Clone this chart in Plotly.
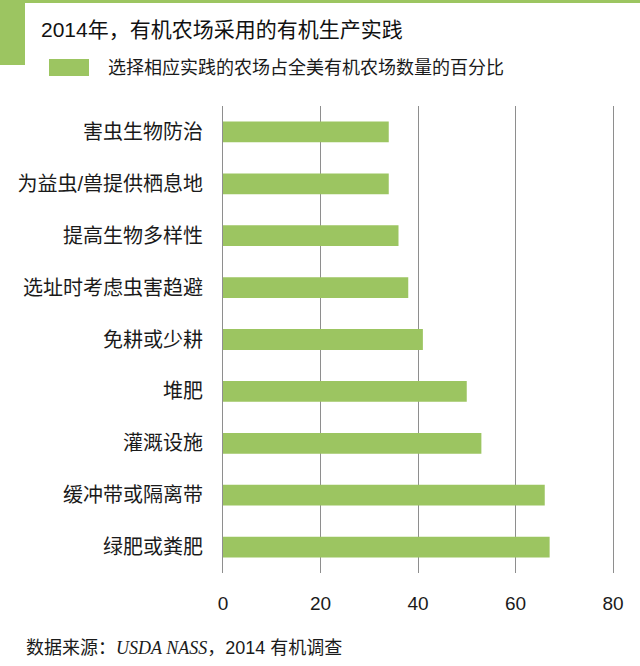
import plotly.graph_objects as go

categories = ["害虫生物防治", "为益虫/兽提供栖息地", "提高生物多样性", "选址时考虑虫害趋避",
              "免耕或少耕", "堆肥", "灌溉设施", "缓冲带或隔离带", "绿肥或粪肥"]
values = [34, 34, 36, 38, 41, 50, 53, 66, 67]
tick_vals = [0, 20, 40, 60, 80]
tick_text = ["0", "20", "40", "60", "80"]
title_text = "2014年，有机农场采用的有机生产实践"
legend_text = "选择相应实践的农场占全美有机农场数量的百分比"
source_text = ("数据来源：<span style='font-family:Liberation Serif'><i>USDA NASS</i></span>"
               "，2014 有机调查")

W, H = 640, 666
ML, MR, MT, MB = 223, 27, 106, 93
PW, PH = W - ML - MR, H - MT - MB

def px(x):
    return (x - ML) / PW

def py(y):
    return (H - MB - y) / PH

GREEN = "#9cc561"
GRID = "#8e8e8e"
CJK = "Liberation Sans, Noto Sans CJK SC, sans-serif"

fig = go.Figure(go.Bar(
    x=values, y=categories, orientation="h",
    marker=dict(color=GREEN, line=dict(width=0)),
    showlegend=False,
))

fig.update_layout(
    width=W, height=H,
    margin=dict(l=ML, r=MR, t=MT, b=MB),
    paper_bgcolor="white", plot_bgcolor="white",
    bargap=0.6,
    font=dict(family=CJK, color="#1a1a1a"),
    xaxis=dict(range=[0, 80], tickvals=tick_vals, ticktext=tick_text,
               showgrid=True, gridcolor=GRID, gridwidth=1,
               zeroline=False, showline=False, ticks="", automargin=False,
               tickfont=dict(size=19, family=CJK, color="#1a1a1a"),
               ticklabelstandoff=17, fixedrange=True),
    yaxis=dict(autorange="reversed", showgrid=False, zeroline=False,
               showline=True, mirror=True, linecolor=GRID, linewidth=1,
               ticks="", automargin=False,
               tickfont=dict(size=20, family=CJK, color="#1a1a1a"),
               ticklabelstandoff=15, fixedrange=True),
    shapes=[
        dict(type="rect", xref="paper", yref="paper", x0=px(0), x1=px(W), y0=py(0), y1=py(3),
             fillcolor=GREEN, line=dict(width=0), layer="above"),
        dict(type="rect", xref="paper", yref="paper", x0=px(0), x1=px(25), y0=py(0), y1=py(65),
             fillcolor=GREEN, line=dict(width=0), layer="above"),
        dict(type="rect", xref="paper", yref="paper", x0=px(49), x1=px(89), y0=py(59), y1=py(76),
             fillcolor=GREEN, line=dict(width=0), layer="above"),
    ],
    annotations=[
        dict(text=title_text, xref="paper", yref="paper", x=px(39), y=py(29),
             xanchor="left", yanchor="middle", showarrow=False,
             font=dict(size=21, family=CJK, color="#111")),
        dict(text=legend_text, xref="paper", yref="paper", x=px(106), y=py(68),
             xanchor="left", yanchor="middle", showarrow=False,
             font=dict(size=18, family=CJK, color="#1a1a1a")),
        dict(text=source_text, xref="paper", yref="paper", x=px(24), y=py(648),
             xanchor="left", yanchor="middle", showarrow=False,
             font=dict(size=18, family=CJK, color="#1a1a1a")),
    ],
)

fig.write_html("out.html", config={"displayModeBar": False},
               post_script="document.body.style.margin='0';")
